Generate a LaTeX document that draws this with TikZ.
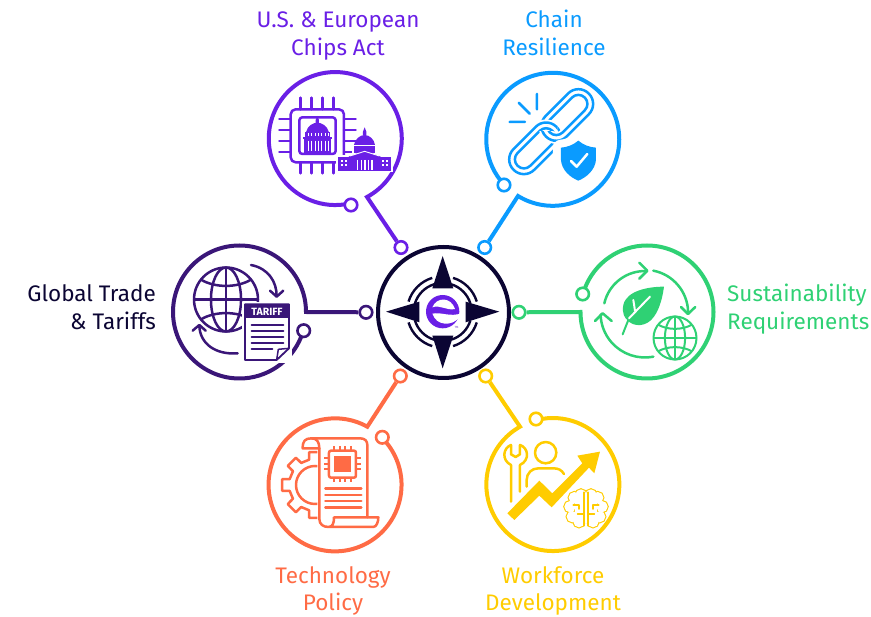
\documentclass[tikz,border=0pt]{standalone}
\usepackage{fontspec}
\usetikzlibrary{calc}
\setmainfont{Fira Sans}
\definecolor{cpurple}{HTML}{6A1FE6}
\definecolor{cblue}{HTML}{0A9BFF}
\definecolor{cindigo}{HTML}{3A1678}
\definecolor{cnavy}{HTML}{0B0533}
\definecolor{cgreen}{HTML}{2FD174}
\definecolor{corange}{HTML}{FF6B45}
\definecolor{cyellow}{HTML}{FFCC00}
\tikzset{
  ring/.style={line width=4pt,miter limit=10},
  dot/.style={circle,draw,fill=white,line width=2.6pt,minimum size=12.5pt,inner sep=0pt},
  lab/.style={font=\fontsize{22.5}{28}\selectfont,align=center,inner sep=0pt},
  ic/.style={line width=2.5pt,line cap=round,line join=round},
  icthin/.style={line width=2pt,line cap=round,line join=round},
}
\newcommand{\myglobe}[4]{%
 \begin{scope}[shift={(#1,#2)},scale=#3,#4]
  \draw[fill=white] (0,0) circle[radius=1];
  \draw (0,-1)--(0,1) (-1,0)--(1,0);
  \draw (0,0) ellipse[x radius=0.47,y radius=1];
  \draw (-0.78,-0.62) .. controls (-0.35,-0.36) and (0.35,-0.36) .. (0.78,-0.62);
  \draw (-0.78,0.62) .. controls (-0.35,0.36) and (0.35,0.36) .. (0.78,0.62);
 \end{scope}}
\newcommand{\mylink}[2]{%
 \begin{scope}[shift={(#1,#2)},rotate=-45]
  \draw[white,line width=6pt,rounded corners=14.5pt] (-91,-44) rectangle (91,44);
  \draw[white,line width=6pt,rounded corners=8.9pt] (-74,-27) rectangle (74,27);
  \draw[cblue,ic,rounded corners=14.5pt] (-91,-44) rectangle (91,44);
  \draw[cblue,ic,rounded corners=8.9pt] (-74,-27) rectangle (74,27);
 \end{scope}}
\begin{document}
\begin{tikzpicture}[x=1pt,y=1pt,yscale=-1]
\useasboundingbox (0,0) rectangle (871,617);

% ---------- small terminal dots and hub
\node[circle,draw=cnavy,line width=4pt,minimum size=131pt,inner sep=0pt,fill=white] (hub) at (443.5,312.5) {};
\node[dot,draw=cpurple] (pa) at (401,247.5) {};
\node[dot,draw=cpurple] (pb) at (351,205) {};
\node[dot,draw=cblue] (ba) at (484.7,247.5) {};
\node[dot,draw=cblue] (bb) at (504,185) {};
\node[dot,draw=cindigo] (ia) at (366,312.3) {};
\node[dot,draw=cindigo] (ib) at (303.7,330.7) {};
\node[dot,draw=cgreen] (ga) at (519,312.3) {};
\node[dot,draw=cgreen] (gb) at (582.7,294) {};
\node[dot,draw=corange] (oa) at (400.3,376) {};
\node[dot,draw=corange] (ob) at (382.3,437.3) {};
\node[dot,draw=cyellow] (ya) at (485.7,376) {};
\node[dot,draw=cyellow] (yb) at (536,419) {};

% ---------- rings with tails
\coordinate (pt) at (367,197);
\draw[ring,draw=cpurple] (pa) -- (pt) arc[start angle=61.5,end angle=-278.2,radius=66.5];
\coordinate (bt) at (518,196);
\draw[ring,draw=cblue] (ba) -- (bt) arc[start angle=121.5,end angle=-218.2,radius=66.5];
\coordinate (it) at (306,312);
\draw[ring,draw=cindigo] (ia) -- (it) arc[start angle=0,end angle=-338.7,radius=66.5];
\coordinate (gt) at (580.5,312);
\draw[ring,draw=cgreen] (ga) -- (gt) arc[start angle=180,end angle=-159.4,radius=66.5];
\coordinate (ot) at (367.3,426.7);
\draw[ring,draw=corange] (oa) -- (ot) arc[start angle=-61,end angle=-400,radius=66.5];
\coordinate (yt) at (520,426.7);
\draw[ring,draw=cyellow] (ya) -- (yt) arc[start angle=-119.6,end angle=-459.2,radius=66.5];

% ---------- labels
\node[lab,text=cpurple] (l1) at (338,36.4) {\strut U.S. \& European\\\strut Chips Act};
\node[lab,text=cblue] (l2) at (554,36.4) {\strut Chain\\\strut Resilience};
\node[lab,text=cnavy,anchor=east,align=right] (l3) at (156,310.4) {\strut Global Trade\\\strut \& Tariffs};
\node[lab,text=cgreen,anchor=west,align=left] (l4) at (727,310.4) {\strut Sustainability\\\strut Requirements};
\node[lab,text=corange] (l5) at (333,591.4) {\strut Technology\\\strut Policy};
\node[lab,text=cyellow] (l6) at (553,591.4) {\strut Workforce\\\strut Development};

% ---------- compass
\begin{scope}[shift={(375,245)},scale=0.3333]
 \fill[cnavy] (203,33)--(235,130)--(172,130)--cycle;
 \fill[cnavy] (203,370)--(235,272)--(172,272)--cycle;
 \fill[cnavy] (33,200)--(133,170)--(133,232)--cycle;
 \fill[cnavy] (373,200)--(272,170)--(272,232)--cycle;
 \foreach \a in {-45,45,135,225}{
  \draw[cnavy,line width=2.4pt] ($(203,201)+(\a-28:107)$) arc[start angle=\a-28,end angle=\a+28,radius=107];
  \draw[cnavy,line width=2.4pt] ($(203,201)+(\a-28:87)$) arc[start angle=\a-28,end angle=\a+28,radius=87];
 }
 % e logo
 \fill[cpurple] (203,200) ellipse[x radius=50,y radius=50];
 \fill[white] (172,187) .. controls (185,155) and (228,155) .. (240,192) .. controls (215,198) and (195,178) .. (172,187) -- cycle;
 \fill[white] (172,206) .. controls (200,200) and (225,218) .. (262,204) -- (262,226) -- (250,220) .. controls (232,242) and (185,245) .. (172,206) -- cycle;
 \node[inner sep=0pt,text=cpurple!70!gray,font=\fontsize{3}{3}\selectfont] (tm) at (245,248) {TM};
\end{scope}

% ---------- chips act icon
\begin{scope}[shift={(250,80)},scale=0.3333]
 \draw[cpurple,ic,rounded corners=5pt] (122,88) rectangle (282,247);
 \draw[cpurple,ic,rounded corners=3pt] (148,112) rectangle (257,222);
 \foreach \p in {152,185,218,251}{
  \draw[cpurple,ic] (\p,53)--(\p,88) (\p,247)--(\p,280);}
 \foreach \p in {117,150,183,216}{
  \draw[cpurple,ic] (88,\p)--(122,\p) (282,\p)--(317,\p);}
 % small capitol
 \fill[cpurple] (202,108)--(207,120)--(207,130)--(197,130)--(197,120)--cycle;
 \fill[cpurple] (168,157) .. controls (172,137) and (190,128) .. (202,128) .. controls (214,128) and (232,137) .. (237,157) -- cycle;
 \fill[cpurple] (166,157) rectangle (239,170);
 \fill[cpurple] (159,170) rectangle (246,176);
 \fill[cpurple] (163,176) rectangle (242,220);
 \foreach \p in {175,185,195,205,215,225,235}{
  \draw[white,line width=0.9pt] (\p,182)--(\p,212);
  \draw[white,line width=0.8pt] (\p,160)--(\p,167);}
 % big capitol
 \fill[white] (258,225) rectangle (428,276);
 \fill[white] (305,190) rectangle (382,228);
 \fill[cpurple] (344,142)--(349,155)--(349,166)--(339,166)--(339,155)--cycle;
 \fill[cpurple] (312,195) .. controls (314,178) and (330,165) .. (344,165) .. controls (358,165) and (373,178) .. (375,195) -- cycle;
 \fill[cpurple] (312,199) rectangle (375,218);
 \fill[cpurple] (265,232) rectangle (422,272);
 \fill[cpurple] (344,211)--(392,230)--(392,240)--(296,240)--(296,230)--cycle;
 \draw[white,line width=0.9pt] (300,228)--(344,214)--(388,228);
 \foreach \p in {323,334,345,356,366}{\draw[white,line width=1.3pt] (\p,240)--(\p,270);}
 \foreach \p in {275,289,398,412}{
  \fill[white] (\p-3,240) rectangle (\p+3,245);
  \fill[white] (\p-3,252) rectangle (\p+3,258);}
\end{scope}

% ---------- chain icon
\begin{scope}[shift={(470,80)},scale=0.3333]
 \mylink{195}{205}
 \mylink{292}{105}
 \begin{scope}
  \clip (170,90) rectangle (262,152);
  \mylink{195}{205}
 \end{scope}
 \draw[cblue,ic] (201,42)--(201,88) (146,68)--(179,101) (119,126)--(165,126);
 \path[fill=cblue,draw=white,line width=16pt,line join=round] (325,182) .. controls (340,195) and (360,202) .. (378,203) -- (378,240) .. controls (375,270) and (350,292) .. (325,302) .. controls (300,292) and (275,270) .. (273,240) -- (273,203) .. controls (290,202) and (310,195) .. (325,182) -- cycle;
 \fill[cblue] (325,182) .. controls (340,195) and (360,202) .. (378,203) -- (378,240) .. controls (375,270) and (350,292) .. (325,302) .. controls (300,292) and (275,270) .. (273,240) -- (273,203) .. controls (290,202) and (310,195) .. (325,182) -- cycle;
 \draw[white,ic] (303,243)--(320,260)--(352,222);
\end{scope}

% ---------- tariff icon
\begin{scope}[shift={(165,240)},scale=0.3333]
 \draw[cindigo,ic] (258,75) .. controls (310,85) and (335,125) .. (335,168);
 \draw[cindigo,ic] (315,152)--(335,170)--(355,152);
 \draw[cindigo,ic] (218,340) .. controls (150,345) and (105,310) .. (103,258);
 \draw[cindigo,ic] (83,272)--(103,255)--(122,272);
\end{scope}
\myglobe{226}{299.5}{32}{cindigo,draw=cindigo,line width=2.5pt}
\begin{scope}[shift={(165,240)},scale=0.3333]
 \fill[white] (232,185) rectangle (380,368);
 \draw[cindigo,fill=white,line width=1.8pt,line join=round] (240,193)--(372,193)--(372,325)--(335,360)--(240,360)--cycle;
 \fill[cindigo] (240,193) rectangle (372,235);
 \node[text=white,font=\bfseries\fontsize{10.5}{11}\selectfont,inner sep=0pt] (tf) at (306,217) {TARIFF};
 \foreach \p in {255,273,291,309}{\draw[cindigo,line width=2pt,line cap=round] (260,\p)--(355,\p);}
 \draw[cindigo,line width=2pt,line cap=round] (260,327)--(322,327);
 \draw[cindigo,line width=1.5pt,line join=round] (372,325)--(340,328)--(335,360);
\end{scope}

% ---------- sustainability icon
\begin{scope}[shift={(510,240)},scale=0.3333]
 \draw[cgreen,ic] (283,190) arc[start angle=193,end angle=273,radius=125];
 \draw[cgreen,ic] (388,68)--(412,92)--(388,116);
 \draw[cgreen,ic] (430,92) arc[start angle=281,end angle=358,radius=129];
 \draw[cgreen,ic] (513,201)--(534,222)--(556,201);
 \draw[cgreen,ic] (430,350) arc[start angle=79,end angle=178,radius=133];
 \draw[cgreen,ic] (255,243)--(278,220)--(305,243);
 \fill[cgreen] (462,140) .. controls (420,140) and (350,150) .. (340,195) .. controls (335,220) and (345,235) .. (352,240) .. controls (370,262) and (410,262) .. (432,230) .. controls (450,205) and (458,170) .. (462,140) -- cycle;
 \draw[cgreen,icthin] (338,283)--(357,235);
 \draw[white,icthin] (357,235)--(420,170) (370,180)--(375,212);
\end{scope}
\myglobe{675}{338}{21.5}{cgreen,draw=cgreen,line width=2pt}

% ---------- technology policy icon
\begin{scope}[shift={(260,365)},scale=0.3333]
 \begin{scope}
  \clip (40,240) rectangle (172,480);
  \begin{scope}[shift={(165,360)}]
   \draw[corange,ic] (78,0) \foreach \a in {0,45,...,315}{ -- (\a-13:78) -- (\a-10:100) -- (\a+10:100) -- (\a+13:78) } -- cycle;
   \draw[corange,ic] (0,0) circle[radius=57];
  \end{scope}
 \end{scope}
 \draw[corange,ic] (178,250) -- (128,250) .. controls (128,228) and (135,220) .. (155,220) -- (300,220) .. controls (315,220) and (322,228) .. (322,240) -- (322,457);
 \draw[corange,ic] (155,220) .. controls (170,220) and (178,230) .. (178,250) -- (178,462) .. controls (178,478) and (190,486) .. (205,486) -- (340,486) .. controls (350,486) and (355,470) .. (355,457) -- (222,457) .. controls (222,475) and (218,486) .. (205,486);
 \fill[corange] (223,272) rectangle (272,322);
 \draw[corange,ic,rounded corners=2pt] (207,257) rectangle (288,338);
 \foreach \p in {223,240,256,272}{\draw[corange,icthin,line cap=butt] (\p,243)--(\p,257) (\p,338)--(\p,352);}
 \foreach \p in {280,297,313}{\draw[corange,icthin,line cap=butt] (193,\p)--(207,\p) (288,\p)--(302,\p);}
 \foreach \p in {370,390,408,428}{\draw[corange,ic] (196,\p)--(304,\p);}
\end{scope}

% ---------- workforce icon
\begin{scope}[shift={(475,365)},scale=0.3333]
 \draw[cyellow,ic] (108,410)--(108,300) .. controls (78,285) and (85,248) .. (108,240) -- (108,268) -- (122,276) -- (135,268) -- (135,240) .. controls (160,248) and (166,285) .. (135,300) -- (135,380);
 \draw[cyellow,ic] (212,263) circle[radius=32];
 \draw[cyellow,ic] (155,365)--(155,345) .. controls (155,325) and (170,310) .. (190,310) -- (235,310) .. controls (250,310) and (260,315) .. (267,327);
 \draw[white,line width=3.5pt,line join=miter] (97,445)--(193,347)--(232,385)--(322,295)--(307,272)--(375,260)--(358,325)--(342,308)--(230,427)--(193,392)--(118,465)--cycle;
 \fill[cyellow] (97,445)--(193,347)--(232,385)--(322,295)--(307,272)--(375,260)--(358,325)--(342,308)--(230,427)--(193,392)--(118,465)--cycle;
 \foreach \c in {(298,398),(285,425),(292,455),(312,470),(318,390),(368,398),(381,425),(374,455),(354,470),(348,390)}{
  \draw[cyellow,line width=2.2pt] \c circle[radius=17];}
 \foreach \c in {(298,398),(285,425),(292,455),(312,470),(318,390),(368,398),(381,425),(374,455),(354,470),(348,390)}{
  \fill[white] \c circle[radius=17];}
 \fill[white] (300,385) rectangle (366,475);
 \draw[cyellow,line width=1.8pt,line cap=round] (327,382)--(327,482) (340,382)--(340,482);
 \draw[cyellow,line width=1.8pt,line cap=round,line join=round] (295,420)--(312,420)--(312,432) (371,420)--(355,420)--(355,432) (327,448)--(308,448) (340,448)--(358,448);
\end{scope}
\end{tikzpicture}
\end{document}
